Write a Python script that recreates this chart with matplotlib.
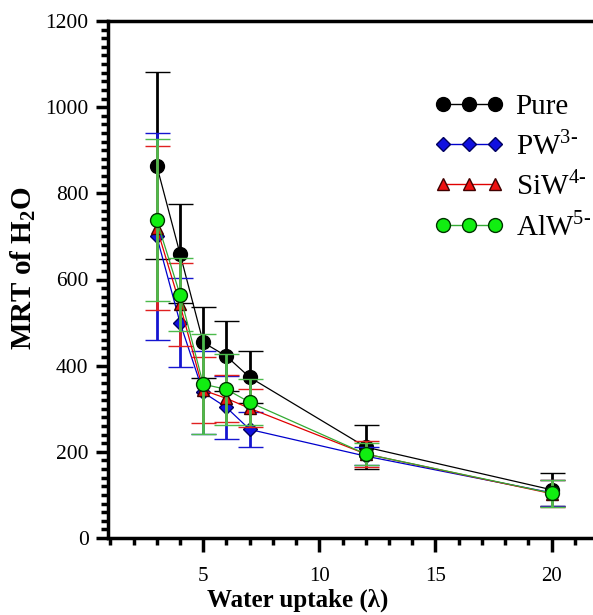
import numpy as np
import matplotlib.pyplot as plt
from matplotlib.lines import Line2D
from matplotlib.ticker import MultipleLocator

plt.rcParams['font.family'] = ['Liberation Serif', 'DejaVu Serif']
plt.rcParams['mathtext.fontset'] = 'custom'
plt.rcParams['mathtext.rm'] = 'Liberation Serif'
plt.rcParams['mathtext.bf'] = 'Liberation Serif:bold'

# water uptake (lambda)
x = [3, 4, 5, 6, 7, 12, 20]

# mean residence time of H2O and error
pure = [864, 660, 454, 422, 373, 211, 112]
pure_err = [217, 115, 83, 81, 60, 51, 38]
pw = [700, 500, 338, 303, 252, 190, 105]
pw_err = [240, 104, 97, 74, 40, 21, 30]
siw = [720, 542, 343, 324, 301, 195, 103]
siw_err = [190, 97, 77, 54, 44, 30, 32]
alw = [737, 565, 357, 345, 315, 195, 104]
alw_err = [188, 85, 116, 83, 53, 26, 31]

labels = ['Pure', 'PW$^{3\u2010}$', 'SiW$^{4\u2010}$', 'AlW$^{5\u2010}$']

fig = plt.figure(figsize=(5.93, 6.15), dpi=100)
ax = fig.add_axes([108/593, 77/615, 490/593, 517/615])

series = [
    (pure, pure_err, 'black', 'o', 'black', 'black', 10),
    (pw, pw_err, '#0000cc', 'D', '#1010e0', '#000060', 7),
    (siw, siw_err, '#e00000', '^', '#ee1111', '#400000', 9),
    (alw, alw_err, '#33aa33', 'o', '#11ee11', '#003300', 10),
]
ecolors = ['black', '#1515d0', '#e02020', '#4cbb4c']

handles = []
for i, (y, e, lc, m, fc, ec, ms) in enumerate(series):
    ax.errorbar(x, y, yerr=e, color=lc, lw=0.9, marker=m, ms=ms,
                mfc=fc, mec=ec, mew=1.0, ecolor=ecolors[i], elinewidth=2,
                capsize=9, capthick=2.2, zorder=2 + i)
    handles.append(Line2D([], [], color=lc, lw=1.0, marker=m, ms=ms,
                          mfc=fc, mec=ec, mew=1.0))

ax.set_xlim(0.9, 22)
ax.set_ylim(0, 1200)
ax.xaxis.set_major_locator(MultipleLocator(5))
ax.xaxis.set_minor_locator(MultipleLocator(1))
ax.yaxis.set_major_locator(MultipleLocator(200))
ax.yaxis.set_minor_locator(MultipleLocator(20))

for s in ['left', 'bottom', 'top']:
    ax.spines[s].set_linewidth(2.5)
ax.spines['right'].set_visible(False)

ax.tick_params(axis='x', which='major', direction='out', length=10, width=2.5,
               labelsize=15, pad=11)
ax.tick_params(axis='x', which='minor', direction='out', length=5, width=2.5)
ax.tick_params(axis='y', which='major', direction='out', length=9, width=2.5,
               labelsize=15.5, pad=5)
ax.tick_params(axis='y', which='minor', direction='out', length=5, width=2.5)

ax.set_xlabel('Water uptake (λ)', fontsize=18, fontweight='bold')
ax.xaxis.set_label_coords(0.388, -0.097)
ax.set_ylabel(r'MRT of H$_{\mathbf{2}}$O', fontsize=21, fontweight='bold')
ax.yaxis.set_label_coords(-0.143, 0.522)

ax.legend(handles, labels, loc='upper left', bbox_to_anchor=(0.665, 0.86),
          numpoints=3, frameon=False, fontsize=21, handlelength=2.4,
          handletextpad=0.4, labelspacing=0.36, borderpad=0, borderaxespad=0)

fig.savefig('out.png', dpi=100)
